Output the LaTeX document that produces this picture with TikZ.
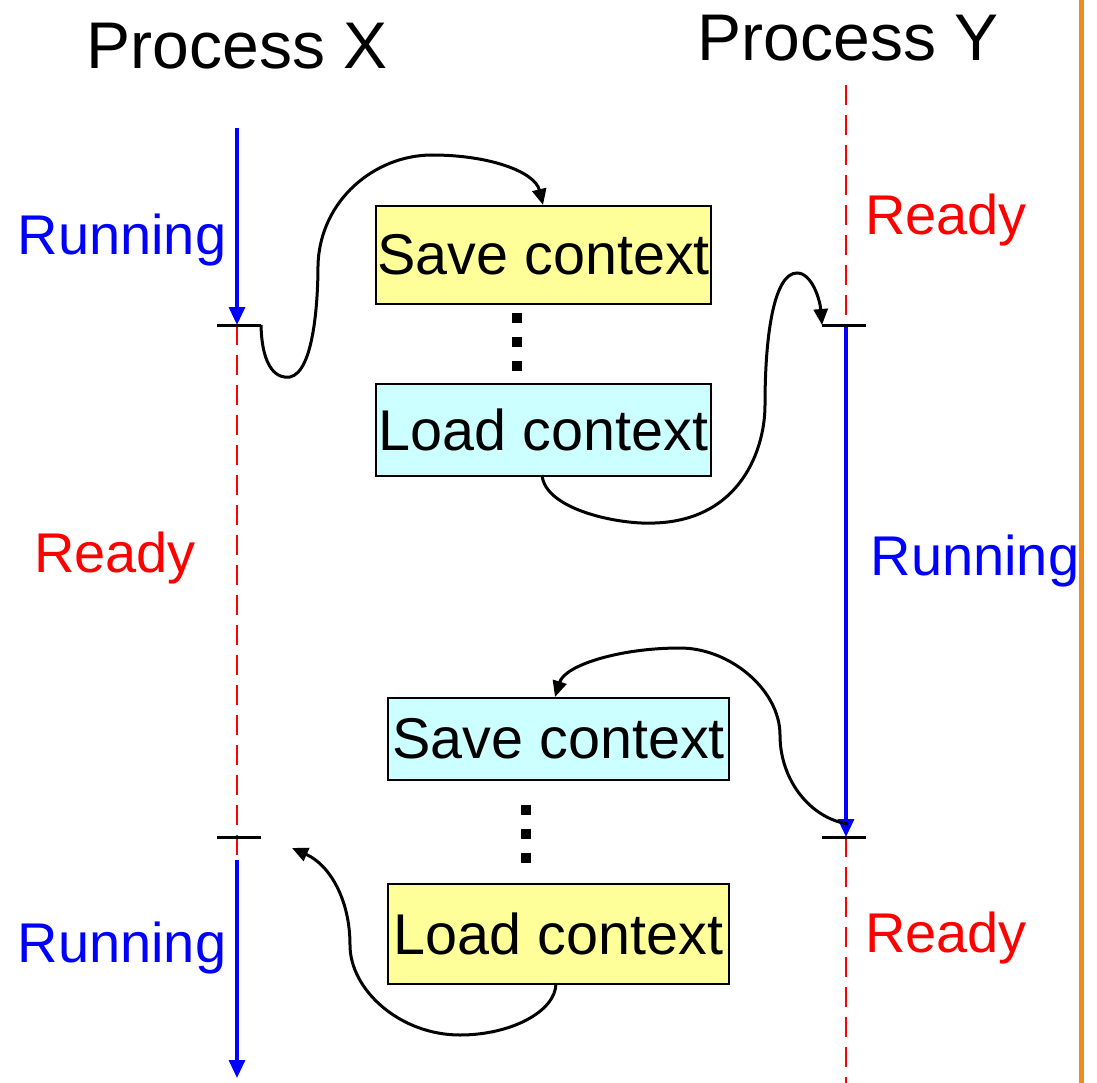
\documentclass[tikz,border=0pt]{standalone}
\usepackage{fontspec}
\setmainfont{Liberation Sans}
\usetikzlibrary{arrows.meta}
\definecolor{boxyellow}{HTML}{FFFF99}
\definecolor{boxcyan}{HTML}{CCFFFF}
\definecolor{orangeline}{HTML}{F28A1E}
\begin{document}
\begin{tikzpicture}[x=1pt,y=-1pt,
  ctxbox/.style={draw=black,line width=2.2pt,inner sep=0pt,anchor=north west},
  lbl/.style={font=\fontsize{56}{60}\selectfont},
  boxlbl/.style={font=\fontsize{57.5}{60}\selectfont},
  title/.style={font=\fontsize{66}{70}\selectfont},
  runline/.style={draw=blue,line width=3.2pt,-{Triangle[length=18pt,width=16pt]}},
  readyline/.style={draw=red,line width=2.8pt,dash pattern=on 20pt off 10pt},
  tick/.style={draw=black,line width=3pt},
  flow/.style={draw=black,line width=3pt,-{Triangle[length=16pt,width=14pt]}},
  dotsq/.style={fill=black,draw=none,minimum size=10pt,inner sep=0pt}
]
\useasboundingbox (0,0) rectangle (1097,1083);
% orange border line
\coordinate (ot) at (1081,0);
\coordinate (ob) at (1081,1083);
\draw[orangeline,line width=5pt] (ot) -- (ob);

% titles
\node[title] (px) at (237,46) {Process X};
\node[title] (py) at (848,38) {Process Y};

% coordinates on timelines
\coordinate (xa) at (237,128);
\coordinate (xb) at (237,325);
\coordinate (xc) at (237,860);
\coordinate (xd) at (237,1078);
\coordinate (ya) at (846,85);
\coordinate (yb) at (846,325);
\coordinate (yc) at (846,837);
\coordinate (yd) at (846,1083);

% left timeline
\draw[readyline] (xb) -- (xc);
\draw[runline] (xa) -- (xb);
\draw[runline] (xc) -- (xd);
% right timeline
\draw[readyline] (ya) -- (yb);
\draw[readyline] (yc) -- (yd);
\draw[runline] (yb) -- (yc);

% ticks
\coordinate (t1a) at (217,325); \coordinate (t1b) at (261,325);
\coordinate (t2a) at (217,837); \coordinate (t2b) at (261,837);
\coordinate (t3a) at (822,325); \coordinate (t3b) at (866,325);
\coordinate (t4a) at (822,837); \coordinate (t4b) at (866,837);
\draw[tick] (t1a) -- (t1b);
\draw[tick] (t2a) -- (t2b);
\draw[tick] (t3a) -- (t3b);
\draw[tick] (t4a) -- (t4b);

% state labels
\node[lbl,blue] (r1) at (122,240) {Running};
\node[lbl,red] (d1) at (946,220) {Ready};
\node[lbl,red] (d2) at (115,558) {Ready};
\node[lbl,blue] (r2) at (975,561) {Running};
\node[lbl,blue] (r3) at (122,948) {Running};
\node[lbl,red] (d3) at (946,938) {Ready};

% boxes
\node[ctxbox,fill=boxyellow,minimum width=335pt,minimum height=98pt] (s1) at (375,205) {};
\node[boxlbl] at (s1.center) {Save context};
\node[ctxbox,fill=boxcyan,minimum width=335pt,minimum height=92pt] (l1) at (375,383) {};
\node[boxlbl] at (l1.center) {Load context};
\node[ctxbox,fill=boxcyan,minimum width=341pt,minimum height=82pt] (s2) at (387,697) {};
\node[boxlbl] at (s2.center) {Save context};
\node[ctxbox,fill=boxyellow,minimum width=341pt,minimum height=100pt] (l2) at (387,883) {};
\node[boxlbl] at (l2.center) {Load context};

% dots
\node[dotsq] (da1) at (517,318) {};
\node[dotsq] (da2) at (517,342) {};
\node[dotsq] (da3) at (517,366) {};
\node[dotsq] (db1) at (526,810) {};
\node[dotsq] (db2) at (526,834) {};
\node[dotsq] (db3) at (526,858) {};

% flow curves
\coordinate (c1e) at (543,205);
\draw[flow] (t1b) .. controls (262,370) and (278,379) .. (290,377)
  .. controls (314,372) and (318,300) .. (318,265)
  .. controls (320,200) and (375,155) .. (432,155)
  .. controls (490,155) and (535,172) .. (c1e);

\coordinate (c2s) at (542,475);
\draw[flow] (c2s) .. controls (545,510) and (620,525) .. (655,523)
  .. controls (740,520) and (765,450) .. (765,405)
  .. controls (765,330) and (775,273) .. (797,273)
  .. controls (812,273) and (820,300) .. (t3a);

\coordinate (c3s) at (848,824);
\coordinate (c3e) at (555,697);
\draw[flow] (c3s) .. controls (810,818) and (780,780) .. (780,735)
  .. controls (780,690) and (730,648) .. (680,648)
  .. controls (620,648) and (565,665) .. (c3e);

\coordinate (c4s) at (556,983);
\coordinate (c4e) at (292,848);
\draw[flow] (c4s) .. controls (556,1012) and (510,1035) .. (460,1035)
  .. controls (400,1035) and (350,990) .. (350,945)
  .. controls (350,900) and (330,865) .. (c4e);
\end{tikzpicture}
\end{document}
